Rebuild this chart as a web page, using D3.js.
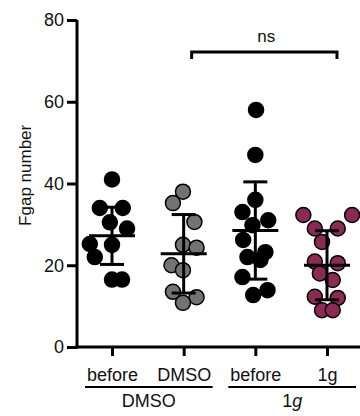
<!DOCTYPE html>
<html>
<head>
<meta charset="utf-8">
<script src="https://cdn.jsdelivr.net/npm/d3@7"></script>
<style>
  body { margin: 0; background: #fff; }
  svg text { font-family: "Liberation Sans", Arial, sans-serif; fill: #111; }
</style>
</head>
<body>
<div id="chart"></div>
<script>
// categories (x axis) and the two treatment groups
const conditions = ["before", "DMSO", "before ", "1g"];
const groups = [
    {name: "DMSO", from: 0, to: 1},
    {name: "1g", from: 2, to: 3}
];
const yTicks = [0, 20, 40, 60, 80];

// Fgap number per cell
const beforeDmso = [41, 34, 34, 30.5, 29, 25.2, 25, 22, 16.5, 16.5];
const afterDmso  = [38, 35.2, 30.6, 25, 24.3, 20, 18.8, 13.5, 12.2, 10.8];
const before1g   = [58, 47, 36, 33, 31, 29.8, 26.2, 23.2, 22, 21.3, 17.1, 13.9, 12.7];
const after1g    = [32.3, 32.3, 29, 29, 25.7, 20.9, 20.5, 18, 16.4, 12.3, 12, 9, 9];

// horizontal scatter of each dot, as a fraction of the category spacing
const jitter1 = [0, -0.17, 0.15, -0.03, 0.21, -0.31, 0, -0.24, 0, 0.14];
const jitter2 = [-0.01, -0.15, 0.15, -0.01, 0.18, -0.17, -0.01, -0.15, 0.18, -0.01];
const jitter3 = [0.01, 0, 0, -0.18, 0.18, -0.04, -0.17, 0.14, -0.11, 0.07, -0.18, 0.17, -0.03];
const jitter4 = [-0.33, 0.35, -0.17, 0.15, -0.07, -0.17, 0.15, -0.1, 0.08, -0.17, 0.15, -0.07, 0.08];

// mean and SD as drawn
const means = [27.2, 22.8, 28.5, 20.0];
const sds = [7.0, 9.6, 11.9, 8.45];

const values = [beforeDmso, afterDmso, before1g, after1g];
const jitters = [jitter1, jitter2, jitter3, jitter4];
const fills = ["#000000", "#737373", "#000000", "#8c2a56"];

const width = 360, height = 416;
const svg = d3.select("#chart").append("svg")
    .attr("width", width)
    .attr("height", height);

const x = d3.scalePoint()
    .domain(conditions)
    .range([112, 327]);
const step = x.step();

const y = d3.scaleLinear()
    .domain([0, 80])
    .range([347, 20]);

// y axis
const yAxis = svg.append("g")
    .attr("transform", "translate(77,0)")
    .call(d3.axisLeft(y).tickValues(yTicks).tickSize(10).tickPadding(3));
yAxis.select(".domain").attr("stroke-width", 3).attr("d", `M0,${y(80)}V${y(0) + 1.5}`);
yAxis.selectAll(".tick line").attr("stroke-width", 3);
yAxis.selectAll(".tick text").attr("font-size", 18).style("font-family", "Liberation Sans, Arial, sans-serif");

// x axis
const xAxis = svg.append("g")
    .attr("transform", `translate(0,${y(0)})`)
    .call(d3.axisBottom(x).tickSize(9).tickPadding(12));
xAxis.select(".domain").attr("stroke-width", 3).attr("d", "M75.5,0H360");
xAxis.selectAll(".tick line").attr("stroke-width", 3);
xAxis.selectAll(".tick text")
    .attr("font-size", 18)
    .style("font-family", "Liberation Sans, Arial, sans-serif")
    .text(d => d.trim());

// group brackets under the axis labels
groups.forEach(g => {
    const x0 = x(conditions[g.from]) - 27;
    const x1 = x(conditions[g.to]) + 29;
    svg.append("line")
        .attr("x1", x0).attr("x2", x1)
        .attr("y1", 387).attr("y2", 387)
        .attr("stroke", "#000").attr("stroke-width", 2);
    const t = svg.append("text")
        .attr("x", (x0 + x1) / 2)
        .attr("y", 407)
        .attr("text-anchor", "middle")
        .attr("font-size", 18);
    if (g.name === "1g") {
        t.append("tspan").text("1");
        t.append("tspan").attr("font-style", "italic").text("g");
    } else {
        t.text(g.name);
    }
});

// y axis title
svg.append("text")
    .attr("transform", "rotate(-90)")
    .attr("x", -y(42))
    .attr("y", 31)
    .attr("text-anchor", "middle")
    .attr("font-size", 17)
    .text("Fgap number");

// dots
conditions.forEach((c, gi) => {
    const pts = values[gi].map((v, i) => ({v: v, dx: jitters[gi][i]}));
    svg.append("g")
        .selectAll("circle")
        .data(pts)
        .enter()
        .append("circle")
        .attr("cx", d => x(c) + d.dx * step)
        .attr("cy", d => y(d.v))
        .attr("r", 7.5)
        .attr("fill", fills[gi])
        .attr("stroke", "#000")
        .attr("stroke-width", 1.5);
});

// mean +/- SD
conditions.forEach((c, gi) => {
    const cx = x(c);
    const g = svg.append("g").attr("stroke", "#000").attr("stroke-width", 3);
    g.append("line")
        .attr("x1", cx).attr("x2", cx)
        .attr("y1", y(means[gi] + sds[gi])).attr("y2", y(means[gi] - sds[gi]));
    g.append("line")
        .attr("x1", cx - 23).attr("x2", cx + 23)
        .attr("y1", y(means[gi])).attr("y2", y(means[gi]));
    [means[gi] + sds[gi], means[gi] - sds[gi]].forEach(v => {
        g.append("line")
            .attr("x1", cx - 12).attr("x2", cx + 12)
            .attr("y1", y(v)).attr("y2", y(v));
    });
});

// significance bracket
const bx0 = x(conditions[1]) + 8, bx1 = x(conditions[3]) + 10, by = 52;
svg.append("path")
    .attr("d", `M${bx0},${by + 7}V${by}H${bx1}V${by + 7}`)
    .attr("fill", "none")
    .attr("stroke", "#000")
    .attr("stroke-width", 3);
svg.append("text")
    .attr("x", (bx0 + bx1) / 2 + 2)
    .attr("y", 42)
    .attr("text-anchor", "middle")
    .attr("font-size", 17)
    .text("ns");
</script>
</body>
</html>
